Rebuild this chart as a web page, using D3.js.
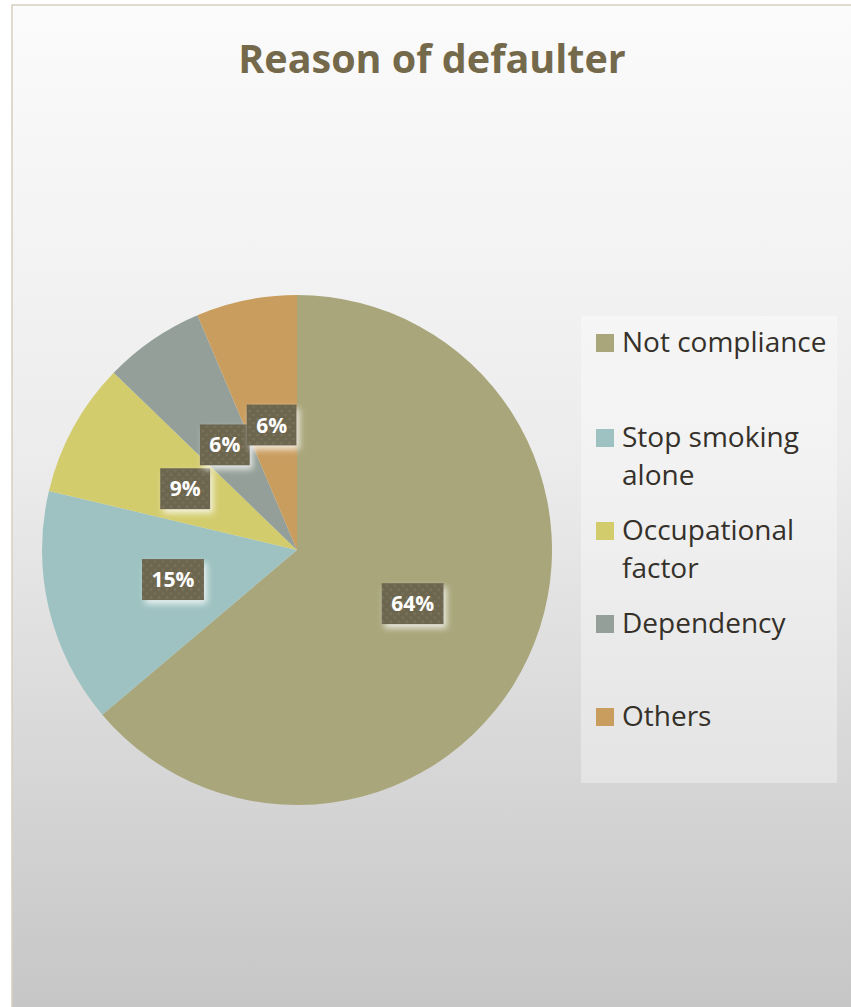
<!DOCTYPE html>
<html>
<head>
<meta charset="utf-8">
<script src="https://cdn.jsdelivr.net/npm/d3@7"></script>
<style>
  html, body { margin: 0; padding: 0; background: #ffffff; }
  svg { display: block; }
</style>
</head>
<body>
<svg id="chart" width="851" height="1007"></svg>
<script>
// Reasons patients defaulted (counts of patients)
const categories = ["Not compliance", "Stop smoking alone", "Occupational factor", "Dependency", "Others"];
const counts = [30, 7, 4, 3, 3];
const colors = ["#a9a67b", "#9dc2c1", "#d3cc6d", "#939f98", "#c99d5e"];
const legendLines = [["Not compliance"], ["Stop smoking", "alone"], ["Occupational", "factor"], ["Dependency"], ["Others"]];
const titleText = "Reason of defaulter";

const W = 851, H = 1007;
const svg = d3.select("#chart");
const defs = svg.append("defs");

// Chart area background: white at the top fading to light grey
const bg = defs.append("linearGradient").attr("id", "bgGrad")
  .attr("x1", 0).attr("y1", 0).attr("x2", 0).attr("y2", 1);
bg.append("stop").attr("offset", "0%").attr("stop-color", "#fbfbfb");
bg.append("stop").attr("offset", "45%").attr("stop-color", "#ececec");
bg.append("stop").attr("offset", "100%").attr("stop-color", "#c6c6c6");

// Dotted texture for the data label boxes
const pat = defs.append("pattern").attr("id", "dots")
  .attr("patternUnits", "userSpaceOnUse").attr("width", 8).attr("height", 8);
pat.append("rect").attr("width", 8).attr("height", 8).attr("fill", "#6d6650");
pat.append("circle").attr("cx", 2).attr("cy", 2).attr("r", 1.3).attr("fill", "#7b745d");
pat.append("circle").attr("cx", 6).attr("cy", 6).attr("r", 1.3).attr("fill", "#777059");

// Soft light glow around label boxes
const glow = defs.append("filter").attr("id", "glow")
  .attr("x", "-30%").attr("y", "-30%").attr("width", "160%").attr("height", "170%");
glow.append("feGaussianBlur").attr("in", "SourceAlpha").attr("stdDeviation", 3).attr("result", "b");
glow.append("feOffset").attr("in", "b").attr("dx", 3).attr("dy", 4).attr("result", "o");
glow.append("feFlood").attr("flood-color", "#ffffff").attr("flood-opacity", 0.75);
glow.append("feComposite").attr("in2", "o").attr("operator", "in").attr("result", "s");
const gm = glow.append("feMerge");
gm.append("feMergeNode").attr("in", "s");
gm.append("feMergeNode").attr("in", "SourceGraphic");

const frame = { x: 12, y: 5 };
svg.append("rect")
  .attr("x", frame.x).attr("y", frame.y)
  .attr("width", W - frame.x + 2).attr("height", H - frame.y + 2)
  .attr("fill", "url(#bgGrad)")
  .attr("stroke", "#d5cfc0").attr("stroke-width", 1.5);

// Title
svg.append("text")
  .attr("x", 432).attr("y", 73)
  .attr("text-anchor", "middle")
  .attr("font-family", "'Open Sans', sans-serif")
  .attr("font-weight", 700)
  .attr("font-size", 39.5)
  .attr("fill", "#75694b")
  .text(titleText);

// Pie
const cx = 297, cy = 550, R = 255;
const total = d3.sum(counts);
const pie = d3.pie().sort(null).value(d => d)(counts);
const arc = d3.arc().innerRadius(0).outerRadius(R);
const labelArc = d3.arc().innerRadius(R * 0.5).outerRadius(R * 0.5);

const g = svg.append("g").attr("transform", `translate(${cx},${cy})`);
g.selectAll("path.slice").data(pie).join("path")
  .attr("class", "slice")
  .attr("d", arc)
  .attr("fill", (d, i) => colors[i]);

// Data labels
const labels = g.selectAll("g.lbl").data(pie).join("g")
  .attr("class", "lbl")
  .attr("transform", d => `translate(${labelArc.centroid(d)})`);
labels.each(function (d) {
  const sel = d3.select(this);
  const txt = Math.round(d.value / total * 100) + "%";
  const w = txt.length > 2 ? 62 : 50;
  const h = 41;
  sel.append("rect")
    .attr("x", -w / 2).attr("y", -h / 2)
    .attr("width", w).attr("height", h)
    .attr("fill", "url(#dots)")
    .attr("filter", "url(#glow)");
  sel.append("text")
    .attr("text-anchor", "middle")
    .attr("dy", "0.36em")
    .attr("font-family", "'Open Sans', sans-serif")
    .attr("font-weight", 700)
    .attr("font-size", 21)
    .attr("fill", "#ffffff")
    .text(txt);
});

// Legend
const legend = svg.append("g");
legend.append("rect")
  .attr("x", 581).attr("y", 316).attr("width", 256).attr("height", 467)
  .attr("fill", "#ffffff").attr("fill-opacity", 0.35);

const legendY = [352, 447, 540, 633, 726];
const lineH = 38;
categories.forEach((c, i) => {
  const y = legendY[i];
  legend.append("rect")
    .attr("x", 596).attr("y", y - 18).attr("width", 18).attr("height", 18)
    .attr("fill", colors[i]);
  const t = legend.append("text")
    .attr("x", 622).attr("y", y)
    .attr("font-family", "'Open Sans', sans-serif")
    .attr("font-size", 28)
    .attr("fill", "#35312a");
  legendLines[i].forEach((ln, j) => {
    t.append("tspan").attr("x", 622).attr("y", y + j * lineH).text(ln);
  });
});
</script>
</body>
</html>
